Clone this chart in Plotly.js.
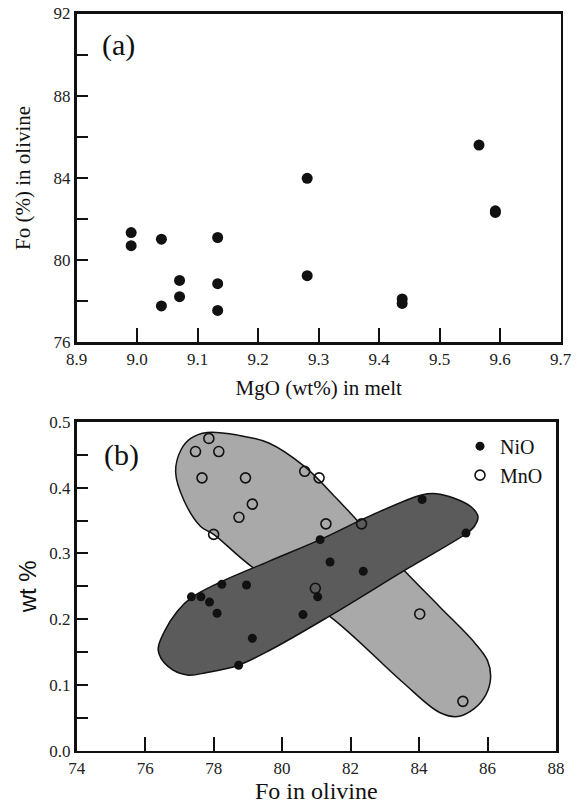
<!DOCTYPE html>
<html>
<head>
<meta charset="utf-8">
<script src="https://cdn.plot.ly/plotly-3.0.1.min.js"></script>
<style>html,body{margin:0;padding:0;background:#fff;}#chart{width:586px;height:805px;}</style>
</head>
<body>
<div id="chart"></div>
<script>
// Panel (a): Fo in olivine vs MgO in melt
const meltMgO = [8.99, 8.99, 9.04, 9.04, 9.07, 9.07, 9.133, 9.133, 9.133, 9.281, 9.281, 9.438, 9.438, 9.565, 9.592, 9.592];
const olivineFo = [81.34, 80.70, 81.02, 77.77, 79.01, 78.22, 81.10, 78.85, 77.55, 83.98, 79.24, 78.11, 77.89, 85.60, 82.40, 82.32];

// Panel (b): NiO and MnO (wt %) vs Fo
const nioFo = [77.35, 77.63, 77.88, 78.10, 78.24, 78.96, 79.13, 78.73, 80.61, 81.04, 81.11, 81.40, 82.37, 84.09, 85.37];
const nioWt = [0.234, 0.234, 0.226, 0.209, 0.253, 0.252, 0.171, 0.130, 0.207, 0.234, 0.321, 0.287, 0.273, 0.382, 0.331];
const mnoFo = [77.86, 77.47, 78.15, 77.66, 78.93, 79.13, 78.74, 78.00, 80.66, 81.08, 81.28, 82.32, 80.97, 84.02, 85.28];
const mnoWt = [0.475, 0.455, 0.455, 0.415, 0.415, 0.375, 0.355, 0.329, 0.425, 0.415, 0.345, 0.345, 0.247, 0.208, 0.075];

// Hand-drawn compositional fields (outline vertices, data units)
const mnoFieldFo = [80.66, 81.55, 82.18, 83.53, 84.6, 85.61, 86.0, 86.09, 85.95, 85.61, 85.13, 84.6, 83.48, 81.40, 79.11, 78.0, 77.62, 77.13, 76.89, 77.04, 77.33, 77.81, 78.7, 79.61, 80.66];
const mnoFieldWt = [0.432, 0.386, 0.351, 0.276, 0.219, 0.165, 0.137, 0.111, 0.085, 0.064, 0.052, 0.058, 0.106, 0.204, 0.280, 0.329, 0.341, 0.381, 0.424, 0.457, 0.475, 0.484, 0.480, 0.468, 0.432];
const nioFieldFo = [81.11, 82.52, 84.07, 84.5, 85.03, 85.52, 85.72, 85.61, 85.37, 83.6, 81.36, 79.72, 78.73, 77.81, 77.23, 76.65, 76.38, 76.56, 76.94, 77.33, 78.1, 79.61, 81.11];
const nioFieldWt = [0.321, 0.356, 0.389, 0.391, 0.384, 0.371, 0.356, 0.341, 0.330, 0.275, 0.204, 0.155, 0.130, 0.119, 0.115, 0.129, 0.153, 0.181, 0.212, 0.232, 0.254, 0.288, 0.321];

const serif = "'Liberation Serif', 'Times New Roman', serif";
const sans = "'Liberation Sans', Arial, sans-serif";
const ink = '#111';

const traces = [
  {x: meltMgO, y: olivineFo, xaxis: 'x', yaxis: 'y', type: 'scatter', mode: 'markers',
   marker: {size: 11, color: ink}, showlegend: false},
  {x: mnoFieldFo, y: mnoFieldWt, xaxis: 'x2', yaxis: 'y2', type: 'scatter', mode: 'lines',
   fill: 'toself', fillcolor: '#a9a9a9', line: {color: ink, width: 1.5, shape: 'spline', smoothing: 1},
   showlegend: false, hoverinfo: 'skip'},
  {x: nioFieldFo, y: nioFieldWt, xaxis: 'x2', yaxis: 'y2', type: 'scatter', mode: 'lines',
   fill: 'toself', fillcolor: '#5b5b5b', line: {color: ink, width: 1.5, shape: 'spline', smoothing: 1},
   showlegend: false, hoverinfo: 'skip'},
  {x: nioFo, y: nioWt, xaxis: 'x2', yaxis: 'y2', type: 'scatter', mode: 'markers', name: 'NiO',
   marker: {size: 9, color: ink}},
  {x: mnoFo, y: mnoWt, xaxis: 'x2', yaxis: 'y2', type: 'scatter', mode: 'markers', name: 'MnO',
   marker: {size: 10, color: ink, symbol: 'circle-open', line: {width: 1.6, color: ink}}}
];

const tickFont = {family: serif, size: 17, color: '#222'};
const common = {showline: true, linecolor: ink, linewidth: 2.7, mirror: true, ticks: 'inside',
  tickcolor: ink, tickwidth: 2, showgrid: false, zeroline: false, tickfont: tickFont, automargin: false};

const layout = {
  width: 586, height: 805,
  margin: {l: 0, r: 0, t: 0, b: 0},
  paper_bgcolor: '#fff', plot_bgcolor: '#fff',
  font: {family: serif, color: ink},
  showlegend: true,
  legend: {x: 0.785, y: 0.470, xanchor: 'left', yanchor: 'top', bgcolor: 'rgba(0,0,0,0)',
    font: {family: serif, size: 20, color: ink}, tracegroupgap: 0},
  xaxis: Object.assign({}, common, {domain: [0.1309, 0.9568], anchor: 'y', range: [8.9, 9.7],
    tick0: 8.9, dtick: 0.1, tickformat: '.1f', ticklen: 14,
    title: {text: 'MgO (wt%) in melt', font: {family: serif, size: 21, color: ink}, standoff: 12}}),
  yaxis: Object.assign({}, common, {domain: [0.5748, 0.9832], anchor: 'x', range: [76, 92],
    tick0: 76, dtick: 4, ticklen: 11,
    minor: {dtick: 2, ticks: 'inside', ticklen: 11, tickwidth: 2, tickcolor: ink, showgrid: false},
    title: {text: 'Fo (%) in olivine', font: {family: serif, size: 21, color: ink}, standoff: 18}}),
  xaxis2: Object.assign({}, common, {domain: [0.1309, 0.9488], anchor: 'y2', range: [74, 88],
    tick0: 74, dtick: 2, ticklen: 14,
    title: {text: 'Fo in olivine', font: {family: serif, size: 24, color: ink}, standoff: 6}}),
  yaxis2: Object.assign({}, common, {domain: [0.0675, 0.4758], anchor: 'x2', range: [0, 0.5],
    tick0: 0, dtick: 0.1, tickformat: '.1f', ticklen: 11,
    minor: {dtick: 0.05, ticks: 'inside', ticklen: 11, tickwidth: 2, tickcolor: ink, showgrid: false},
    title: {text: 'wt %', font: {family: sans, size: 24, color: ink}, standoff: 6}}),
  annotations: [
    {text: '(a)', xref: 'x domain', yref: 'y domain', x: 0.048, y: 0.904, xanchor: 'left', yanchor: 'middle',
     showarrow: false, font: {family: serif, size: 30, color: ink}},
    {text: '(b)', xref: 'x2 domain', yref: 'y2 domain', x: 0.052, y: 0.9, xanchor: 'left', yanchor: 'middle',
     showarrow: false, font: {family: serif, size: 30, color: ink}}
  ]
};

Plotly.newPlot('chart', traces, layout, {staticPlot: true, displayModeBar: false});
</script>
</body>
</html>
